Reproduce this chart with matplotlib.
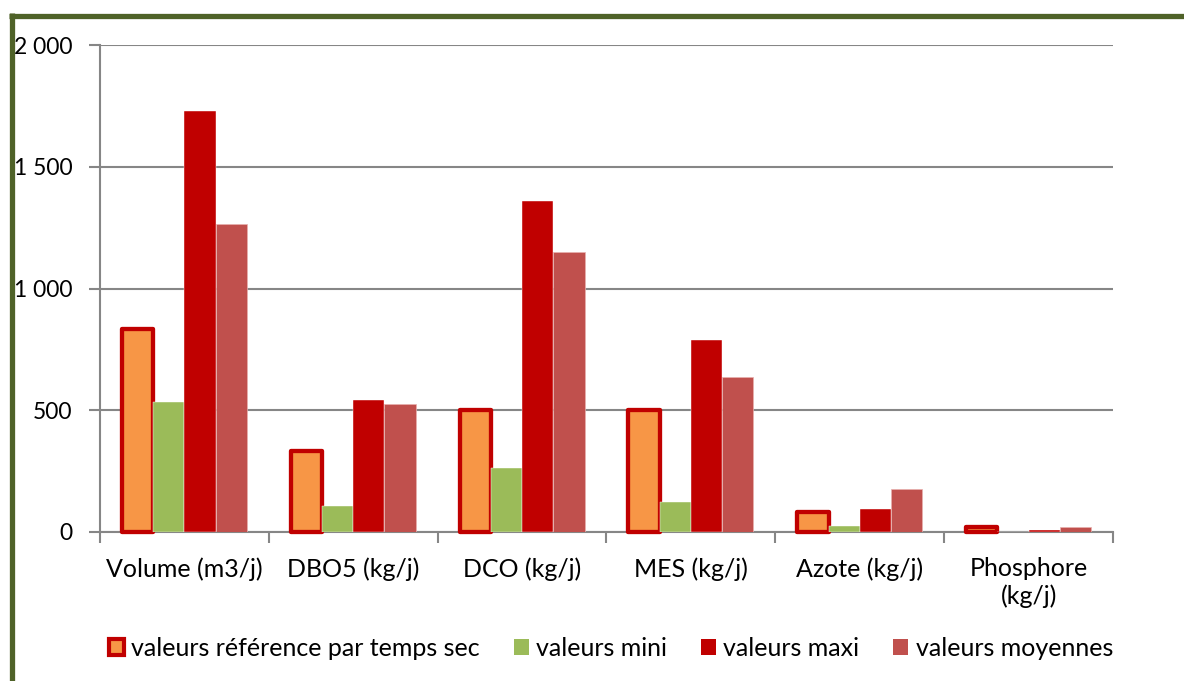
import matplotlib
matplotlib.use("Agg")
import matplotlib.pyplot as plt
from matplotlib.patches import Patch
from matplotlib.lines import Line2D
from matplotlib.ticker import FuncFormatter
import numpy as np

# Data
categories = ["Volume (m3/j)", "DBO5 (kg/j)", "DCO (kg/j)", "MES (kg/j)", "Azote (kg/j)", "Phosphore\n(kg/j)"]
ref_sec = [835, 333, 502, 502, 82, 22]
val_mini = [535, 105, 262, 124, 25, 0]
val_maxi = [1730, 542, 1360, 788, 94, 10]
val_moy = [1265, 526, 1151, 635, 178, 22]
series_names = ["valeurs référence par temps sec", "valeurs mini", "valeurs maxi", "valeurs moyennes"]

ORANGE = "#F79646"
DARKRED = "#C00000"
GREEN = "#9BBB59"
MOY = "#C0504D"
GRID = "#868686"
OLIVE = "#4F6228"

plt.rcParams["font.family"] = ["Lato", "DejaVu Sans"]
FS = 18

fig = plt.figure(figsize=(11.84, 6.81), dpi=100)
ax = fig.add_axes([100 / 1184, 1 - 532 / 681, 1013 / 1184, 487 / 681])

x = np.arange(len(categories))
w = 0.185

# Reference bars with the thick red outline
ax.bar(x - 1.5 * w, ref_sec, w, color=ORANGE, edgecolor=DARKRED, linewidth=3.1,
       joinstyle="round", zorder=3, clip_on=False)
ax.bar(x - 0.5 * w, val_mini, w, color=GREEN, edgecolor="white", linewidth=0.3, zorder=3)
ax.bar(x + 0.5 * w, val_maxi, w, color=DARKRED, edgecolor="white", linewidth=0.3, zorder=3)
ax.bar(x + 1.5 * w, val_moy, w, color=MOY, edgecolor="#E8B0AE", linewidth=0.5, zorder=3)

ax.set_xlim(-0.5, len(categories) - 0.5)
ax.set_ylim(0, 2000)
ax.set_yticks([0, 500, 1000, 1500, 2000])
ax.yaxis.set_major_formatter(FuncFormatter(lambda v, p: "{:,.0f}".format(v).replace(",", " ")))
ax.grid(axis="y", color=GRID, linewidth=1.5, zorder=0)

ax.set_xticks(x)
ax.set_xticklabels(categories, fontsize=FS, linespacing=1.25)
ax.set_xticks(np.arange(len(categories) + 1) - 0.5, minor=True)
ax.tick_params(axis="x", which="major", length=0, pad=18)
ax.tick_params(axis="x", which="minor", length=8, width=1.5, color=GRID)
ax.tick_params(axis="y", length=8, width=1.5, color=GRID, labelsize=16.5, pad=12)

for side in ["top", "right"]:
    ax.spines[side].set_visible(False)
for side in ["left", "bottom"]:
    ax.spines[side].set_color(GRID)
    ax.spines[side].set_linewidth(1.5)
    ax.spines[side].set_zorder(2)

handles = [
    Patch(facecolor=ORANGE, edgecolor=DARKRED, linewidth=3, joinstyle="round"),
    Patch(facecolor=GREEN),
    Patch(facecolor=DARKRED),
    Patch(facecolor=MOY),
]
fig.legend(handles, series_names, loc="center", bbox_to_anchor=(611 / 1184, 1 - 648 / 681),
           ncol=4, frameon=False, fontsize=FS, handlelength=0.6, handleheight=0.6,
           handletextpad=0.3, columnspacing=1.35)

# Olive frame (top and left edges only, the rest is cut off)
fig.add_artist(Line2D([9 / 1184, 1], [1 - 15.5 / 681, 1 - 15.5 / 681], color=OLIVE,
                      linewidth=3.8, solid_capstyle="butt"))
fig.add_artist(Line2D([11.5 / 1184, 11.5 / 1184], [0, 1 - 13 / 681], color=OLIVE,
                      linewidth=3.8, solid_capstyle="butt"))

fig.savefig("out.png", dpi=100)
